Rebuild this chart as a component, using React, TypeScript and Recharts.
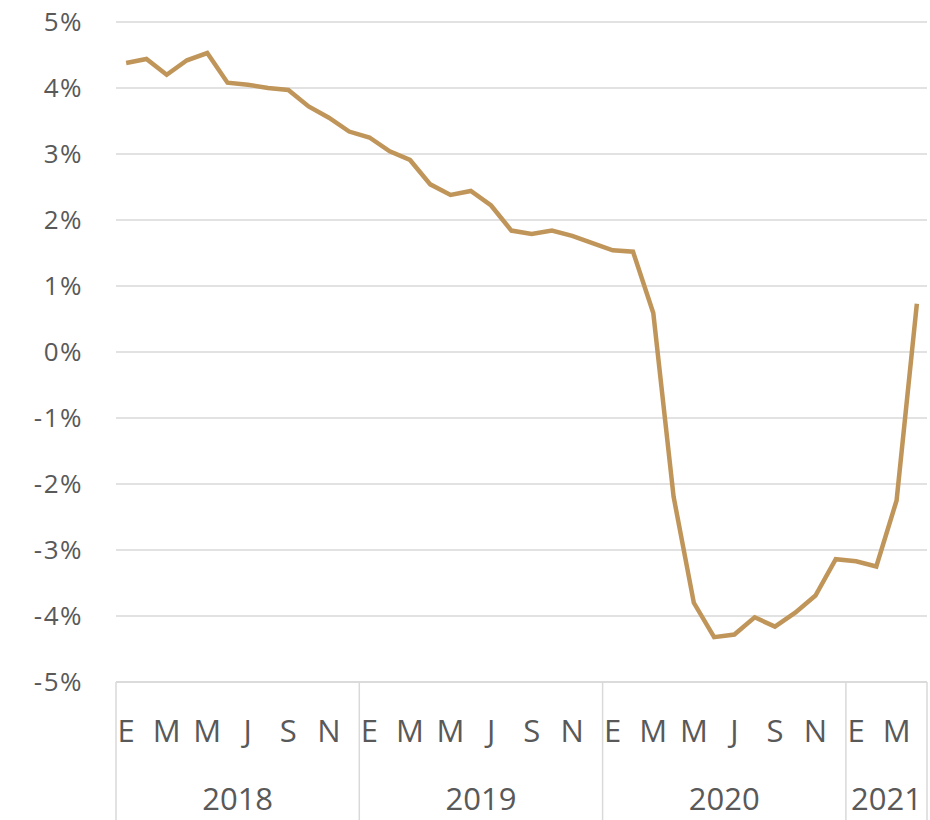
import React from 'react';
import { LineChart, Line, XAxis, YAxis, CartesianGrid } from 'recharts';

// months shown per year (2021 only up to April)
const years = [2018, 2019, 2020, 2021];
const monthsPerYear = [12, 12, 12, 4];
const monthLetters = ['E', 'F', 'M', 'A', 'M', 'J', 'J', 'A', 'S', 'O', 'N', 'D'];

// year-on-year change, %
const values = [
  4.38, 4.44, 4.2, 4.42, 4.53, 4.08, 4.05, 4.0, 3.97, 3.72, 3.55, 3.34,
  3.25, 3.04, 2.91, 2.54, 2.38, 2.44, 2.22, 1.84, 1.79, 1.84, 1.76, 1.65,
  1.54, 1.52, 0.59, -2.19, -3.8, -4.32, -4.28, -4.02, -4.16, -3.95, -3.69, -3.14,
  -3.17, -3.25, -2.25, 0.73,
];

const yTicks = [-5, -4, -3, -2, -1, 0, 1, 2, 3, 4, 5];

const data: { key: string; year: number; month: number; count: number; value: number }[] = [];
years.forEach((y, yi) => {
  for (let m = 0; m < monthsPerYear[yi]; m++) {
    data.push({ key: `${y}-${m + 1}`, year: y, month: m, count: monthsPerYear[yi], value: values[data.length] });
  }
});

const CHART_W = 930;
const CHART_H = 820;
const Y_W = 116;
const MARGIN = { top: 22, right: 3, left: 0, bottom: 0 };
const X_H = 138;
const PLOT_W = CHART_W - Y_W - MARGIN.right;
const BAND = PLOT_W / data.length;

const TEXT = '#595959';
const GRID = '#D9D9D9';
const FONT = '"Open Sans", sans-serif';

const MonthYearTick = (props: any) => {
  const { x, y, payload } = props;
  const idx = payload.index;
  const d = data[idx];
  if (!d) return null;
  const left = x - BAND / 2;
  return (
    <g>
      {d.month % 2 === 0 && (
        <text x={x} y={y + 48} textAnchor="middle" dominantBaseline="central" fill={TEXT} fontSize={31} fontFamily={FONT}>
          {monthLetters[d.month]}
        </text>
      )}
      {d.month === 0 && (
        <>
          <line x1={left} x2={left} y1={y} y2={y + X_H} stroke={GRID} strokeWidth={1.5} />
          <text
            x={x + ((d.count - 1) / 2) * BAND}
            y={y + 116}
            textAnchor="middle"
            dominantBaseline="central"
            fill={TEXT}
            fontSize={31}
            fontFamily={FONT}
          >
            {d.year}
          </text>
        </>
      )}
      {idx === data.length - 1 && (
        <line x1={x + BAND / 2} x2={x + BAND / 2} y1={y} y2={y + X_H} stroke={GRID} strokeWidth={1.5} />
      )}
    </g>
  );
};

const App: React.FC = () => {
  return (
    <div style={{ position: 'absolute', left: 0, top: 0, background: '#fff' }}>
      <LineChart width={CHART_W} height={CHART_H} data={data} margin={MARGIN}>
        <CartesianGrid vertical={false} stroke={GRID} strokeWidth={1.5} />
        <XAxis
          dataKey="key"
          interval={0}
          height={X_H}
          tickLine={false}
          tickSize={0}
          tickMargin={0}
          axisLine={{ stroke: GRID, strokeWidth: 1.5 }}
          padding={{ left: BAND / 2, right: BAND / 2 }}
          tick={<MonthYearTick />}
        />
        <YAxis
          width={Y_W}
          domain={[-5, 5]}
          ticks={yTicks}
          axisLine={false}
          tickLine={false}
          tickSize={0}
          tickMargin={33}
          tickFormatter={(v: number) => `${v}%`}
          tick={{ fill: TEXT, fontSize: 26, fontFamily: FONT, letterSpacing: 1.5 }}
        />
        <Line
          type="linear"
          dataKey="value"
          stroke="#C0955A"
          strokeWidth={4.5}
          dot={false}
          isAnimationActive={false}
        />
      </LineChart>
    </div>
  );
};

export default App;
